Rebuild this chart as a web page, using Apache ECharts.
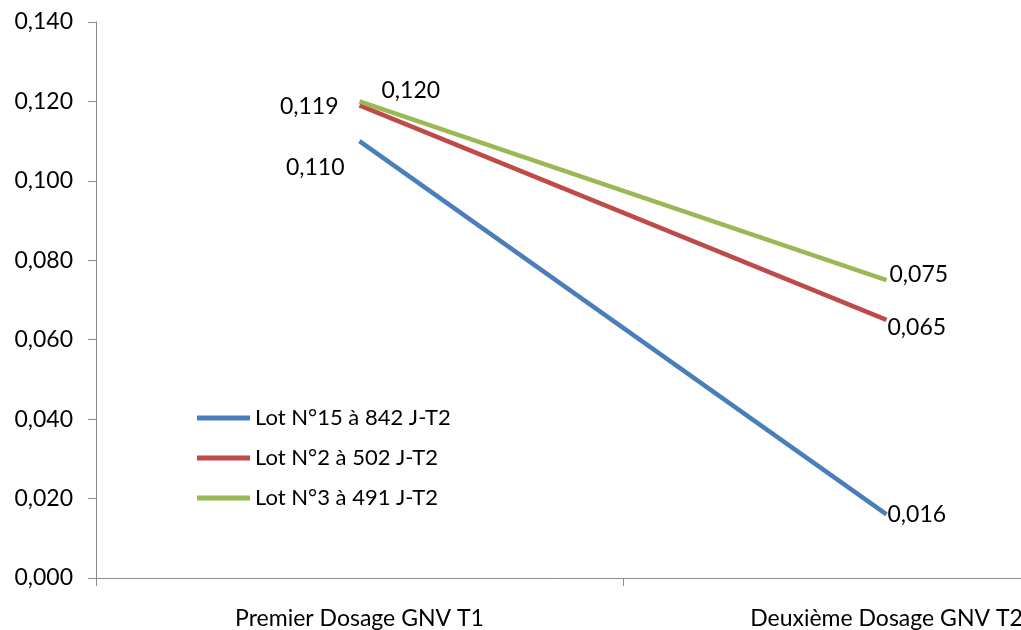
<!DOCTYPE html>
<html>
<head>
<meta charset="utf-8">
<script src="https://cdn.jsdelivr.net/npm/echarts@6/dist/echarts.min.js"></script>
<style>
  html, body { margin: 0; padding: 0; background: #fff; }
  #chart { width: 1021px; height: 630px; }
</style>
</head>
<body>
<div id="chart"></div>
<script>
// Dosage categories along the x axis
const categories = ['Premier Dosage GNV T1', 'Deuxième Dosage GNV T2'];

// Measured values per lot
const lot15 = [0.110, 0.016];
const lot2 = [0.119, 0.065];
const lot3 = [0.120, 0.075];

const seriesNames = ['Lot N°15 à 842 J-T2', 'Lot N°2 à 502 J-T2', 'Lot N°3 à 491 J-T2'];
const colors = ['#4A7EBB', '#BE4B48', '#98B954'];

const FONT = 'Lato';
const NUM_SIZE = 23;
const TEXT_SIZE = 23;
const fmt = v => v.toFixed(3).replace('.', ',');

// label side and nudge for each point of each series
const labelSides = [['left', 'right'], ['left', 'right'], ['right', 'right']];
const labelNudges = [
  [[-10, 26], [-4, 0]],
  [[-16, 1], [-4, 8]],
  [[17, -11], [-2, -6]]
];

function makeSeries(name, values, color, idx) {
  return {
    name: name,
    type: 'line',
    data: values.map((v, i) => ({
      value: v,
      label: { show: true, position: labelSides[idx][i] }
    })),
    showSymbol: true,
    symbol: 'circle',
    symbolSize: 0,
    lineStyle: { color: color, width: 4.5 },
    itemStyle: { color: color },
    label: {
      show: true,
      formatter: p => fmt(p.value),
      fontFamily: FONT,
      fontSize: NUM_SIZE,
      color: '#000'
    },
    labelLayout: p => ({
      dx: labelNudges[idx][p.dataIndex][0],
      dy: labelNudges[idx][p.dataIndex][1],
      hideOverlap: false
    }),
    emphasis: { disabled: true },
    animation: false
  };
}

const chart = echarts.init(document.getElementById('chart'));
chart.setOption({
  backgroundColor: '#fff',
  animation: false,
  grid: { left: 96, width: 1054, top: 22, bottom: 52, outerBoundsMode: 'none' },
  legend: {
    orient: 'vertical',
    left: 192,
    top: 402,
    itemWidth: 53,
    itemHeight: 5,
    itemGap: 18,
    icon: 'rect',
    textStyle: { fontFamily: FONT, fontSize: 22, color: '#000' },
    data: seriesNames
  },
  xAxis: {
    type: 'category',
    data: categories,
    boundaryGap: true,
    axisLine: { lineStyle: { color: '#8c8c8c', width: 1 } },
    axisTick: { show: true, length: 8, lineStyle: { color: '#8c8c8c' } },
    axisLabel: { fontFamily: FONT, fontSize: TEXT_SIZE, color: '#000', margin: 29 }
  },
  yAxis: {
    type: 'value',
    min: 0,
    max: 0.14,
    interval: 0.02,
    axisLine: { show: true, lineStyle: { color: '#8c8c8c', width: 1 } },
    axisTick: { show: true, length: 8, lineStyle: { color: '#8c8c8c' } },
    splitLine: { show: false },
    axisLabel: {
      fontFamily: FONT,
      fontSize: NUM_SIZE,
      color: '#000',
      margin: 23,
      formatter: v => fmt(v)
    }
  },
  series: [
    makeSeries(seriesNames[0], lot15, colors[0], 0),
    makeSeries(seriesNames[1], lot2, colors[1], 1),
    makeSeries(seriesNames[2], lot3, colors[2], 2)
  ]
});
</script>
</body>
</html>
